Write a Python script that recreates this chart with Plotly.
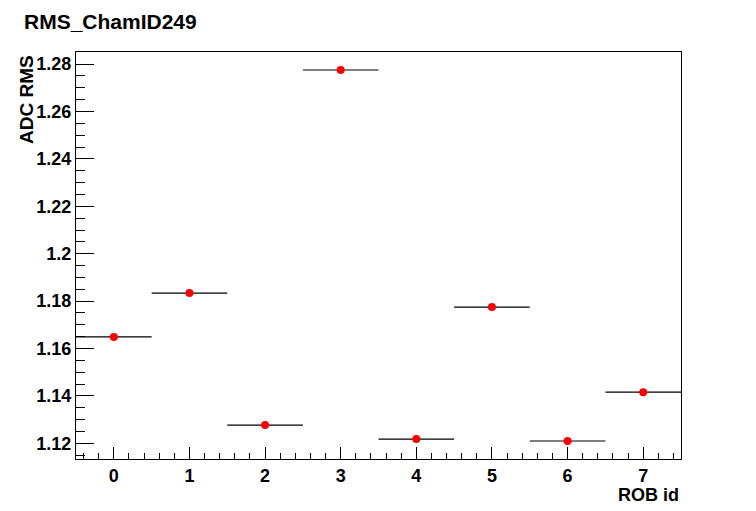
import plotly.graph_objects as go

rob_id = [0, 1, 2, 3, 4, 5, 6, 7]
adc_rms = [1.1649, 1.1834, 1.1277, 1.2775, 1.1218, 1.1775, 1.1210, 1.1416]
x_err = [0.5] * 8

title_text = "RMS_ChamID249"
x_title = "ROB id"
y_title = "ADC RMS"

FONT = "Liberation Sans, Arial, sans-serif"

fig = go.Figure()
fig.add_trace(go.Scatter(
    x=rob_id, y=adc_rms, mode="markers",
    marker=dict(color="#ff0000", size=8),
    error_x=dict(type="data", array=x_err, color="black", thickness=1.2, width=0),
    showlegend=False,
))

fig.update_layout(
    width=748, height=503,
    margin=dict(l=68, r=75, t=44, b=52),
    paper_bgcolor="white", plot_bgcolor="white",
    font=dict(family=FONT, size=18, color="black"),
    annotations=[
        dict(text="<b>" + title_text + "</b>", xref="paper", yref="paper",
             x=0, y=1.0, xanchor="left", yanchor="bottom", xshift=-54, yshift=17,
             showarrow=False, font=dict(size=21, family=FONT)),
        dict(text="<b>" + x_title + "</b>", xref="paper", yref="paper",
             x=1.0, y=0, xanchor="right", yanchor="top", yshift=-24,
             showarrow=False, font=dict(size=18, family=FONT)),
        dict(text="<b>" + y_title + "</b>", xref="paper", yref="paper",
             x=0, y=1.0, xanchor="right", yanchor="top", xshift=-37, yshift=-1,
             textangle=-90, showarrow=False, font=dict(size=19, family=FONT)),
    ],
)

fig.update_xaxes(
    range=[-0.5, 7.5], tickmode="linear", tick0=0, dtick=1,
    ticks="inside", ticklen=12, tickcolor="black", tickwidth=1,
    minor=dict(ticks="inside", ticklen=6, dtick=0.2, tick0=0, tickcolor="black"),
    showline=True, linecolor="black", linewidth=1, mirror=True,
    showgrid=False, zeroline=False,
    tickfont=dict(size=18, family=FONT), tickprefix="<b>", ticksuffix="</b>",
)
fig.update_yaxes(
    range=[1.1134, 1.2851], tickmode="linear", tick0=1.12, dtick=0.02,
    ticks="inside", ticklen=18, tickcolor="black", tickwidth=1,
    minor=dict(ticks="inside", ticklen=9, dtick=0.005, tick0=1.12, tickcolor="black"),
    showline=True, linecolor="black", linewidth=1, mirror=True,
    showgrid=False, zeroline=False,
    tickfont=dict(size=18, family=FONT), tickprefix="<b>", ticksuffix="</b>",
)

fig.write_html("out.html")
